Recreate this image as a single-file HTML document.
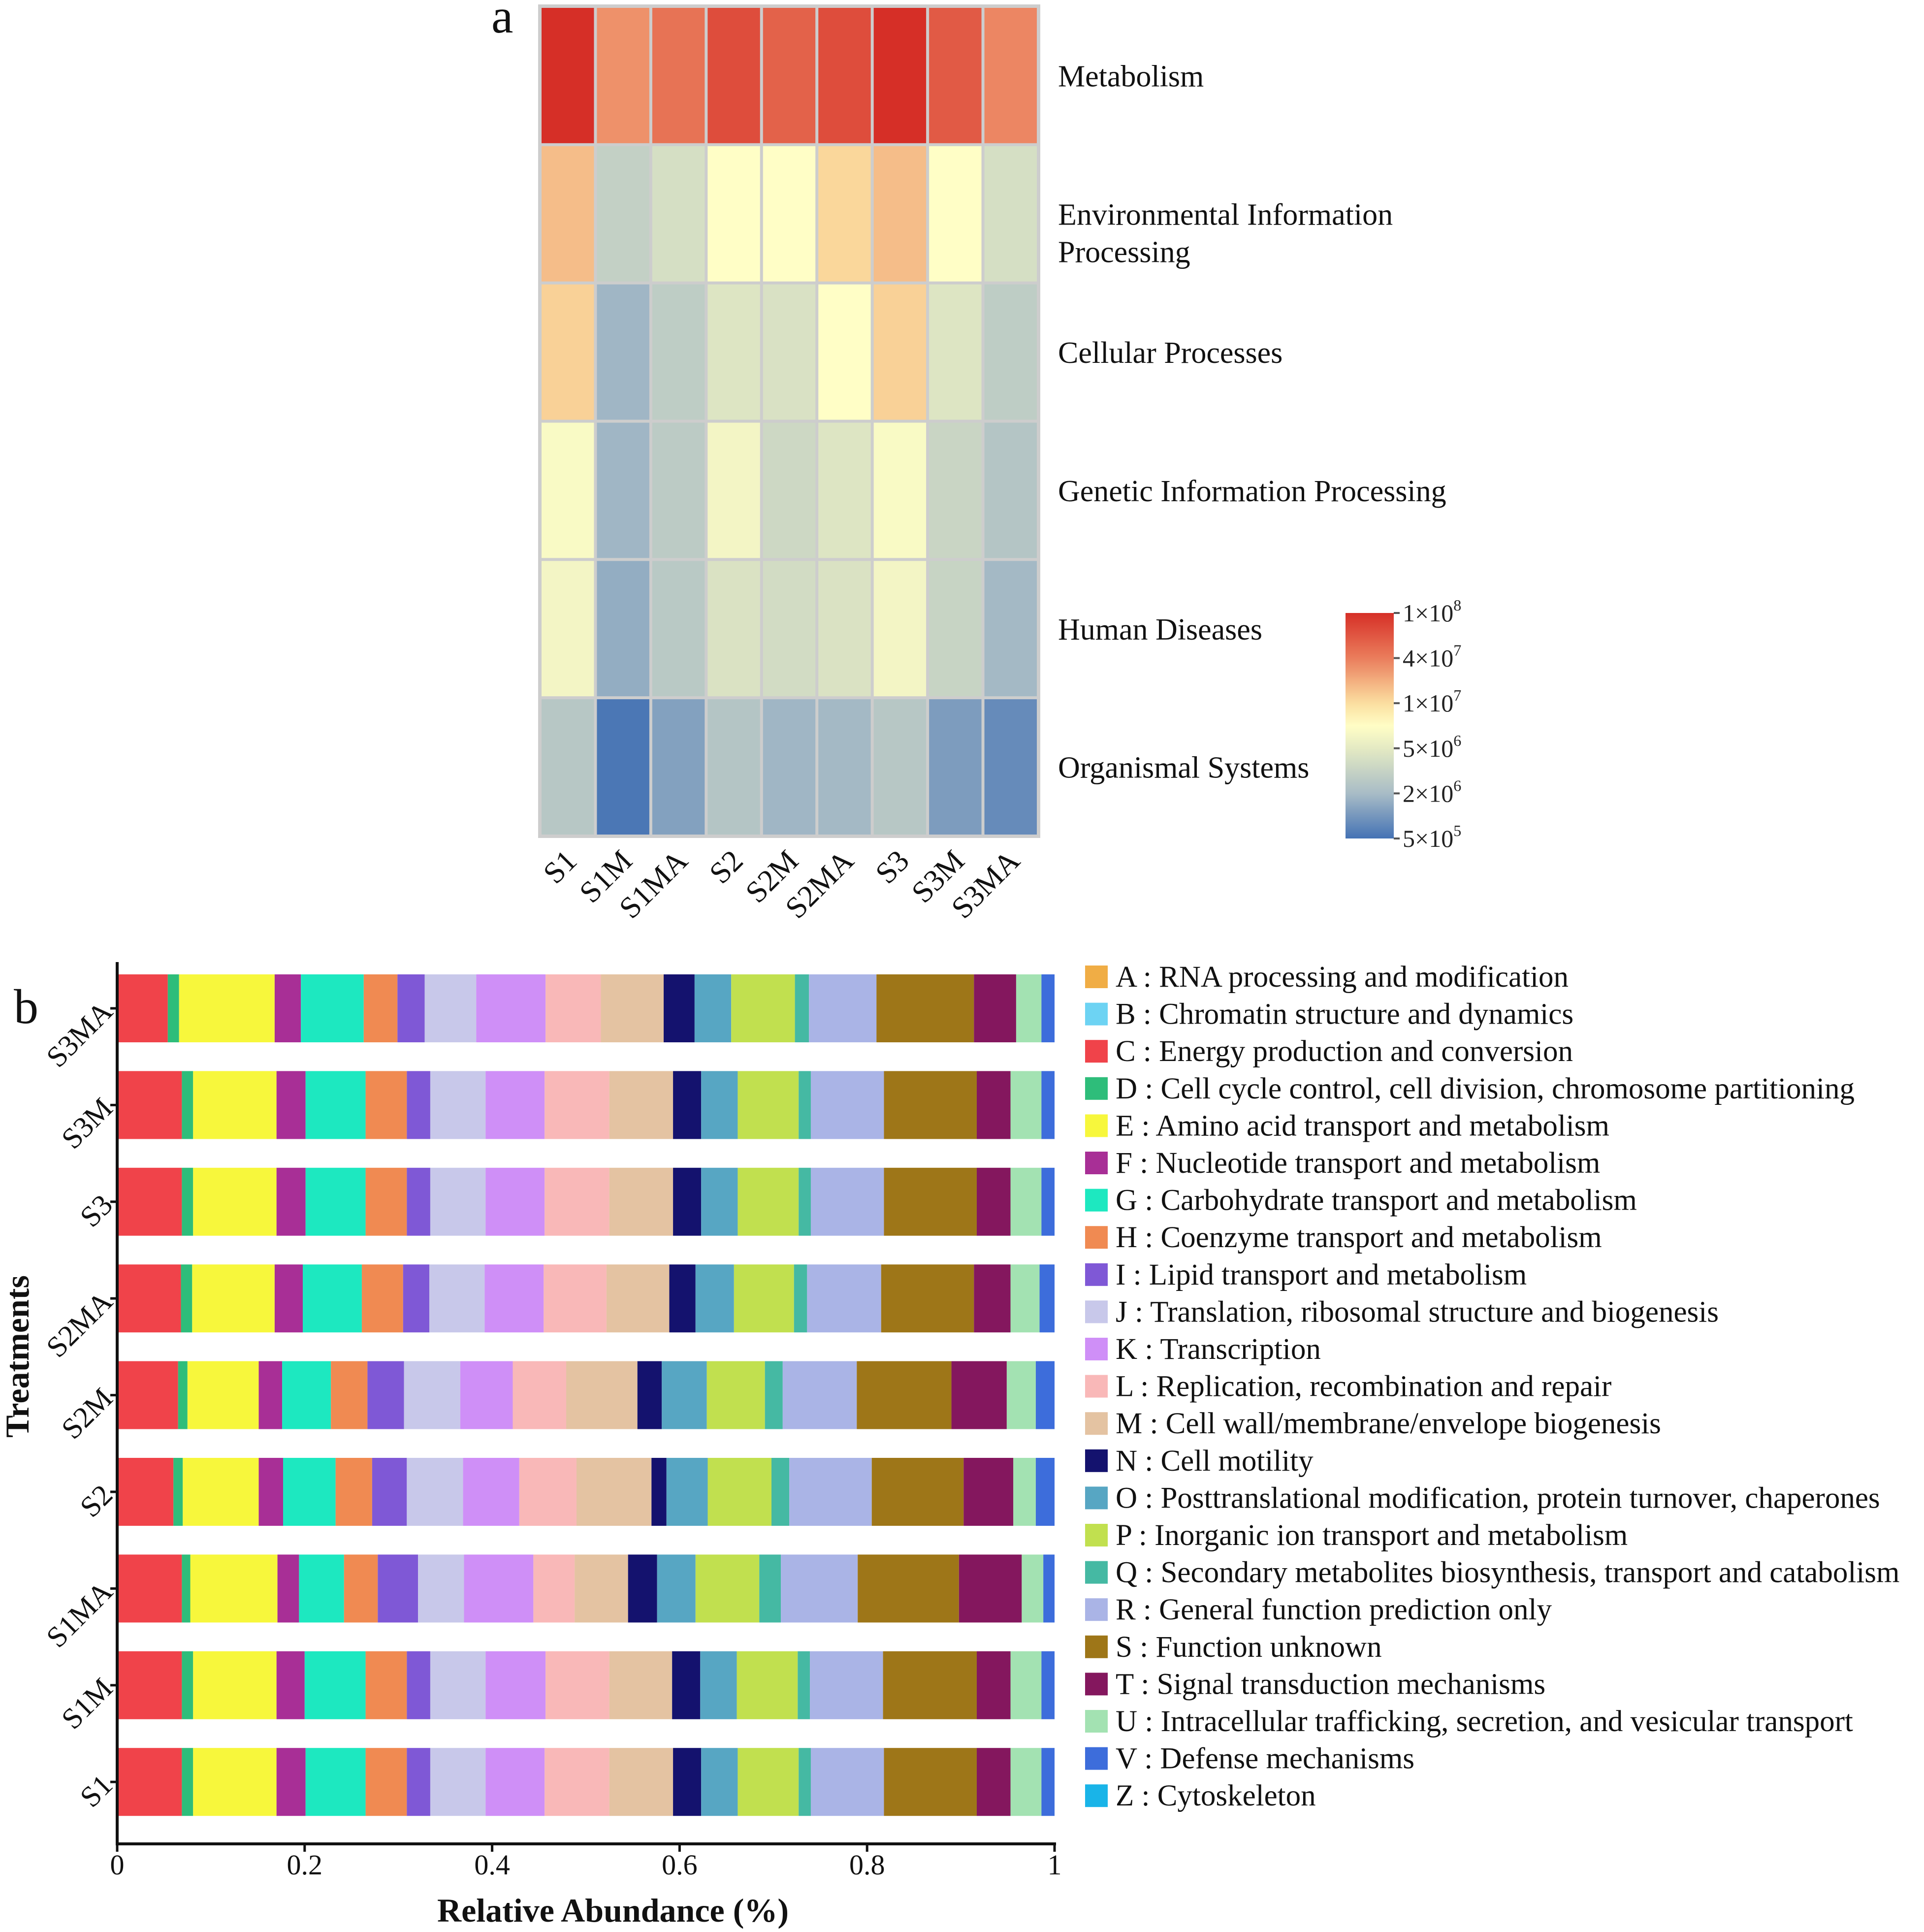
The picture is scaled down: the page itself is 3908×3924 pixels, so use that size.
<!DOCTYPE html>
<html><head><meta charset="utf-8"><style>
html,body{margin:0;padding:0;background:#fff;}
svg{display:block;font-family:"Liberation Serif","DejaVu Serif",serif;}
svg text{font-family:"Liberation Serif","DejaVu Serif",serif;}
</style></head><body>
<svg id="fig" width="3908" height="3924" viewBox="0 0 3908 3924" xmlns="http://www.w3.org/2000/svg">
<g id="heat"></g>
<g id="bars"></g>
</svg>
<script>
// ---------- Heatmap data ----------
const heatSamples = ["S1","S1M","S1MA","S2","S2M","S2MA","S3","S3M","S3MA"];
const heatPathways = ["Metabolism","Environmental Information|Processing","Cellular Processes","Genetic Information Processing","Human Diseases","Organismal Systems"];
const metabolismVals = [1e8,3e7,4.5e7,7e7,5.5e7,7e7,1e8,6e7,3.5e7];
const envInfoVals = [1.6e7,3e6,4e6,7e6,7e6,1.1e7,1.6e7,7e6,4e6];
const cellularVals = [1.2e7,1.8e6,2.8e6,4.5e6,4.2e6,7e6,1.2e7,4.5e6,2.8e6];
const geneticVals = [6.5e6,1.8e6,2.7e6,6e6,3.5e6,4.5e6,6.5e6,3.3e6,2.4e6];
const humanVals = [6e6,1.5e6,2.6e6,4.3e6,3.8e6,4.3e6,6e6,3.2e6,1.9e6];
const organismalVals = [2.5e6,5.5e5,1.2e6,2.4e6,1.8e6,1.9e6,2.5e6,1.1e6,8e5];
const colorbarTicks = [1e8,4e7,1e7,5e6,2e6,5e5];
const colorbarTickLabels = [["1×10","8"],["4×10","7"],["1×10","7"],["5×10","6"],["2×10","6"],["5×10","5"]];

// ---------- Bar data (segment order C..V) ----------
const barTreatments = ["S3MA","S3M","S3","S2MA","S2M","S2","S1MA","S1M","S1"];
const segCodes = ["C","D","E","F","G","H","I","J","K","L","M","N","O","P","Q","R","S","T","U","V"];
const s3maVals = [.054,.012,.102,.028,.067,.036,.029,.055,.074,.059,.067,.033,.039,.068,.015,.072,.104,.045,.027,.014];
const s3mVals  = [.069,.012,.089,.031,.064,.044,.025,.059,.063,.069,.068,.030,.039,.065,.013,.078,.099,.036,.033,.014];
const s3Vals   = [.069,.012,.089,.031,.064,.044,.025,.059,.063,.069,.068,.030,.039,.065,.013,.078,.099,.036,.033,.014];
const s2maVals = [.068,.012,.088,.030,.063,.044,.028,.059,.063,.067,.067,.028,.041,.064,.014,.079,.099,.039,.031,.016];
const s2mVals  = [.065,.010,.076,.025,.052,.039,.039,.060,.056,.057,.076,.026,.048,.062,.019,.079,.101,.059,.031,.020];
const s2Vals   = [.060,.010,.081,.026,.056,.039,.037,.060,.060,.061,.080,.016,.044,.068,.019,.088,.098,.053,.024,.020];
const s1maVals = [.069,.009,.093,.023,.048,.036,.043,.049,.074,.044,.057,.031,.041,.068,.023,.082,.108,.067,.023,.012];
const s1mVals  = [.069,.012,.089,.030,.065,.044,.025,.059,.064,.068,.067,.030,.039,.065,.013,.078,.100,.036,.033,.014];
const s1Vals   = [.069,.012,.089,.031,.064,.044,.025,.059,.063,.069,.068,.030,.039,.065,.013,.078,.099,.036,.033,.014];
const xTicks = [0,0.2,0.4,0.6,0.8,1];
const xTickLabels = ["0","0.2","0.4","0.6","0.8","1"];
const legendCodes = ["A","B","C","D","E","F","G","H","I","J","K","L","M","N","O","P","Q","R","S","T","U","V","Z"];
const legendLabels = ["RNA processing and modification","Chromatin structure and dynamics","Energy production and conversion","Cell cycle control, cell division, chromosome partitioning","Amino acid transport and metabolism","Nucleotide transport and metabolism","Carbohydrate transport and metabolism","Coenzyme transport and metabolism","Lipid transport and metabolism","Translation, ribosomal structure and biogenesis","Transcription","Replication, recombination and repair","Cell wall/membrane/envelope biogenesis","Cell motility","Posttranslational modification, protein turnover, chaperones","Inorganic ion transport and metabolism","Secondary metabolites biosynthesis, transport and catabolism","General function prediction only","Function unknown","Signal transduction mechanisms","Intracellular trafficking, secretion, and vesicular transport","Defense mechanisms","Cytoskeleton"];

const catColors = {A:"#f0ad45",B:"#6dd3f3",C:"#f0434a",D:"#2ebd7a",E:"#f7f73c",F:"#a82f96",G:"#1de8c0",H:"#f08a52",I:"#7f58d6",J:"#c8c8ea",K:"#cf8ff7",L:"#f9b8b8",M:"#e4c3a2",N:"#14126e",O:"#57a6c3",P:"#c1e04f",Q:"#45b9a3",R:"#aab4e6",S:"#9e7618",T:"#84175e",U:"#a3e2b2",V:"#3d6ddb",Z:"#19b4e8"};

const NS="http://www.w3.org/2000/svg";
const FONT='"Liberation Serif","DejaVu Serif",serif';
function mk(tag,attrs,parent){const e=document.createElementNS(NS,tag);for(const k in attrs)e.setAttribute(k,attrs[k]);if(tag==='text')e.setAttribute('font-family',FONT);parent.appendChild(e);return e;}

// ---------- color scale ----------
const cStops=[[5e5,[68,114,180]],[2e6,[168,188,198]],[5e6,[228,234,195]],[7e6,[255,254,198]],[1e7,[251,222,160]],[4e7,[234,125,92]],[1e8,[214,47,39]]];
function colorFor(v){const lv=Math.log10(v);
 if(lv<=Math.log10(cStops[0][0]))return rgb(cStops[0][1]);
 for(let i=1;i<cStops.length;i++){const a=Math.log10(cStops[i-1][0]),b=Math.log10(cStops[i][0]);
  if(lv<=b){const t=(lv-a)/(b-a);return rgb(cStops[i-1][1].map((c,j)=>c+(cStops[i][1][j]-c)*t));}}
 return rgb(cStops[cStops.length-1][1]);}
function rgb(a){return "rgb("+a.map(Math.round).join(",")+")";}

// ---------- Heatmap ----------
const heat=document.getElementById('heat');
const hx0=1097,hx1=2109,hy0=13,hy1=1698;
const cw=(hx1-hx0)/heatSamples.length, ch=(hy1-hy0)/heatPathways.length;
const heatRows=[metabolismVals,envInfoVals,cellularVals,geneticVals,humanVals,organismalVals];
const hbg=mk('rect',{x:hx0-4,y:hy0-4,width:hx1-hx0+8,height:hy1-hy0+8,fill:"#cdcdcd"},heat);


heatRows.forEach((row,r)=>{row.forEach((v,c)=>{
 const el=mk('rect',{x:hx0+c*cw+3,y:hy0+r*ch+3,width:cw-6,height:ch-6,fill:colorFor(v)},heat);
 
 
});});
heatPathways.forEach((p,r)=>{const lines=p.split('|');const cy=hy0+(r+0.5)*ch;
 lines.forEach((ln,i)=>{const t=mk('text',{x:2149,y:cy+22+i*76,'font-size':62,fill:"#111"},heat);t.textContent=ln;
 
 });});
heatSamples.forEach((s,c)=>{const cx=hx0+(c+0.5)*cw+22, cy=1752;
 const t=mk('text',{x:cx,y:cy,'font-size':62,fill:"#111",'text-anchor':'end',transform:`rotate(-45 ${cx} ${cy})`},heat);t.textContent=s;
 
 });
const pa=mk('text',{x:998,y:66,'font-size':100,fill:"#111"},heat);pa.textContent="a";


// colorbar
const defs=mk('defs',{},heat);const lg=mk('linearGradient',{id:'cbg',x1:0,y1:0,x2:0,y2:1},defs);
const cbTop=1245,cbBot=1703,cbX=2733,cbW=98;
function cbPos(v){for(let i=1;i<colorbarTicks.length;i++){const a=Math.log10(colorbarTicks[i-1]),b=Math.log10(colorbarTicks[i]),lv=Math.log10(v);if(lv>=b)return (i-1+(a-lv)/(a-b))/(colorbarTicks.length-1);}return 1;}
for(let k=0;k<=40;k++){const f=k/40;const seg=f*(colorbarTicks.length-1);const i=Math.min(Math.floor(seg),colorbarTicks.length-2);const t=seg-i;
 const lv=Math.log10(colorbarTicks[i])+(Math.log10(colorbarTicks[i+1])-Math.log10(colorbarTicks[i]))*t;
 mk('stop',{offset:f,'stop-color':colorFor(Math.pow(10,lv))},lg);}
const cb=mk('rect',{x:cbX,y:cbTop,width:cbW,height:cbBot-cbTop,fill:'url(#cbg)'},heat);


colorbarTicks.forEach((v,i)=>{const y=cbTop+cbPos(v)*(cbBot-cbTop);
 const tk=mk('line',{x1:cbX+cbW,x2:cbX+cbW+12,y1:y,y2:y,stroke:"#555","stroke-width":4},heat);
 
 
 const t=mk('text',{x:cbX+cbW+18,y:y+17,'font-size':50,fill:"#222"},heat);
 
 
 t.textContent=colorbarTickLabels[i][0];const sp=mk('tspan',{dy:-22,'font-size':32},t);sp.textContent=colorbarTickLabels[i][1];});

// ---------- Stacked bars ----------
const bars=document.getElementById('bars');
const bx0=238,bx1=2142;const xs=v=>bx0+v*(bx1-bx0);
const firstTop=1979,pitch=196.4,bh=138;
const barRows=[s3maVals,s3mVals,s3Vals,s2maVals,s2mVals,s2Vals,s1maVals,s1mVals,s1Vals];
barRows.forEach((vals,r)=>{let cum=0;const y=firstTop+r*pitch;
 vals.forEach((v,i)=>{const el=mk('rect',{x:xs(cum),y:y,width:Math.max(0,xs(cum+v)-xs(cum)),height:bh,fill:catColors[segCodes[i]]},bars);
 
 cum+=v;});
 const cy=y+bh/2;
 const tk=mk('line',{x1:bx0-14,x2:bx0,y1:cy,y2:cy,stroke:"#111","stroke-width":5},bars);
 
 
 const tx=bx0-6,ty=cy+10;
 const t=mk('text',{x:tx,y:ty,'font-size':60,fill:"#111",'text-anchor':'end',transform:`rotate(-45 ${tx} ${ty})`},bars);t.textContent=barTreatments[r];
 
 });
const axY=3745;
const ya=mk('line',{x1:bx0,x2:bx0,y1:1954,y2:axY,stroke:"#111","stroke-width":6},bars);


const xa=mk('line',{x1:bx0-3,x2:bx1+3,y1:axY,y2:axY,stroke:"#111","stroke-width":6},bars);


xTicks.forEach((v,i)=>{const x=xs(v);
 const tk=mk('line',{x1:x,x2:x,y1:axY,y2:axY+16,stroke:"#111","stroke-width":5},bars);
 
 
 const t=mk('text',{x:x,y:axY+62,'font-size':58,fill:"#111",'text-anchor':'middle'},bars);t.textContent=xTickLabels[i];
 
 });
const xt=mk('text',{x:1245,y:3903,'font-size':68,'font-weight':'bold',fill:"#111",'text-anchor':'middle'},bars);xt.textContent="Relative Abundance (%)";


const yt=mk('text',{x:58,y:2755,'font-size':68,'font-weight':'bold',fill:"#111",'text-anchor':'middle',transform:'rotate(-90 58 2755)'},bars);yt.textContent="Treatments";


const pb=mk('text',{x:28,y:2078,'font-size':100,fill:"#111"},bars);pb.textContent="b";


// legend
legendCodes.forEach((c,i)=>{const cy=1984+i*75.6;
 const sq=mk('rect',{x:2204,y:cy-23,width:46,height:46,fill:catColors[c]},bars);
 
 
 const t=mk('text',{x:2266,y:cy+20,'font-size':61,fill:"#111"},bars);t.textContent=c+" : "+legendLabels[i];
 
 });
</script>
</body></html>
